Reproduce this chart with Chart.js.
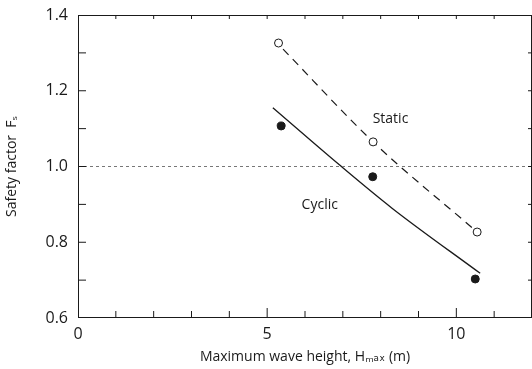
<!DOCTYPE html>
<html>
<head>
<meta charset="utf-8">
<script src="https://cdn.jsdelivr.net/npm/chart.js@4"></script>
<style>
  html, body { margin: 0; padding: 0; background: #fff; }
  #wrap { width: 532px; height: 369px; }
</style>
</head>
<body>
<div id="wrap"><canvas id="fsChart" width="532" height="369"></canvas></div>
<script>
// measured points
const staticX = [5.3, 7.8, 10.55];
const staticY = [1.326, 1.065, 0.827];
const cyclicX = [5.37, 7.79, 10.5];
const cyclicY = [1.107, 0.973, 0.703];

// drawn curves
const staticFitX = [5.42, 7.8, 10.55];
const staticFitY = [1.31, 1.065, 0.827];
const cyclicFitX = [5.15, 6.9, 8.3, 10.63];
const cyclicFitY = [1.155, 1.005, 0.89, 0.718];

const xTicks = [0, 5, 10];
const yTicks = [0.6, 0.8, 1.0, 1.2, 1.4];

const ink = '#1a1a1a';
const font = "'Open Sans', 'DejaVu Sans', sans-serif";

function pts(xs, ys) {
    return xs.map(function (x, i) { return { x: x, y: ys[i] }; });
}

const framePlugin = {
    id: 'frame',
    afterDatasetsDraw: function (chart) {
        const ctx = chart.ctx;
        const a = chart.chartArea;
        const xs = chart.scales.x, ys = chart.scales.y;
        ctx.save();
        ctx.lineWidth = 1;
        // box
        ctx.strokeStyle = ink;
        ctx.strokeRect(a.left + 0.5, a.top + 0.5, a.right - a.left - 1, a.bottom - a.top - 1);
        // reference line at 1.0
        ctx.setLineDash([3, 3]);
        ctx.strokeStyle = '#777';
        const y1 = ys.getPixelForValue(1.0);
        ctx.beginPath(); ctx.moveTo(a.left, y1); ctx.lineTo(a.right, y1); ctx.stroke();
        ctx.setLineDash([]);
        ctx.strokeStyle = ink;
        // inward ticks
        for (let v = 1; v < 12; v++) {
            const px = xs.getPixelForValue(v);
            const len = (v % 5 === 0) ? 10 : 7;
            ctx.beginPath(); ctx.moveTo(px, a.bottom); ctx.lineTo(px, a.bottom - len); ctx.stroke();
            ctx.beginPath(); ctx.moveTo(px, a.top); ctx.lineTo(px, a.top + 4); ctx.stroke();
        }
        for (let k = 7; k < 14; k++) {
            const py = ys.getPixelForValue(k / 10);
            ctx.beginPath(); ctx.moveTo(a.left, py); ctx.lineTo(a.left + 8, py); ctx.stroke();
            ctx.beginPath(); ctx.moveTo(a.right, py); ctx.lineTo(a.right - 4, py); ctx.stroke();
        }
        // curve labels
        ctx.fillStyle = ink;
        ctx.font = '14px ' + font;
        ctx.textAlign = 'center';
        ctx.textBaseline = 'middle';
        ctx.fillText('Static', xs.getPixelForValue(8.26), ys.getPixelForValue(1.126));
        ctx.fillText('Cyclic', xs.getPixelForValue(6.39), ys.getPixelForValue(0.899));
        ctx.restore();
    }
};

new Chart(document.getElementById('fsChart'), {
    type: 'scatter',
    data: {
        datasets: [
            {
                data: pts(staticX, staticY),
                pointStyle: 'circle', pointRadius: 4,
                backgroundColor: '#fff', borderColor: ink, borderWidth: 1,
                showLine: false, order: 1
            },
            {
                data: pts(cyclicX, cyclicY),
                pointStyle: 'circle', pointRadius: 4,
                backgroundColor: ink, borderColor: ink, borderWidth: 1,
                showLine: false, order: 1
            },
            {
                data: pts(staticFitX, staticFitY),
                showLine: true, pointRadius: 0, borderColor: ink, borderWidth: 1.2,
                borderDash: [8, 6], cubicInterpolationMode: 'monotone', order: 2
            },
            {
                data: pts(cyclicFitX, cyclicFitY),
                showLine: true, pointRadius: 0, borderColor: ink, borderWidth: 1.3,
                cubicInterpolationMode: 'monotone', order: 2
            }
        ]
    },
    options: {
        responsive: false,
        animation: false,
        layout: { autoPadding: false, padding: { top: 15, right: 0, left: 0, bottom: 0 } },
        plugins: { legend: { display: false }, tooltip: { enabled: false } },
        scales: {
            x: {
                type: 'linear', min: 0, max: 12,
                afterBuildTicks: function (s) { s.ticks = xTicks.map(function (v) { return { value: v }; }); },
                afterFit: function (s) { s.height = 51; s.paddingLeft = 0; s.paddingRight = 0; },
                grid: { display: false, drawTicks: false },
                border: { display: false },
                ticks: { color: ink, padding: 7, font: { family: font, size: 16 } },
                title: {
                    display: true, text: 'Maximum wave height, H\u2098\u2090\u2093 (m)',
                    color: ink, font: { family: font, size: 14 }, padding: { top: 4 }
                }
            },
            y: {
                type: 'linear', min: 0.6, max: 1.4,
                afterBuildTicks: function (s) { s.ticks = yTicks.map(function (v) { return { value: v }; }); },
                afterFit: function (s) { s.width = 78; s.paddingTop = 0; s.paddingBottom = 0; },
                grid: { display: false, drawTicks: false },
                border: { display: false },
                ticks: {
                    color: ink, padding: 10, font: { family: font, size: 16 },
                    callback: function (v) { return v.toFixed(1); }
                },
                title: {
                    display: true, text: 'Safety factor  F\u209B',
                    color: ink, font: { family: font, size: 14 }, padding: { bottom: 0 }
                }
            }
        }
    },
    plugins: [framePlugin]
});
</script>
</body>
</html>
